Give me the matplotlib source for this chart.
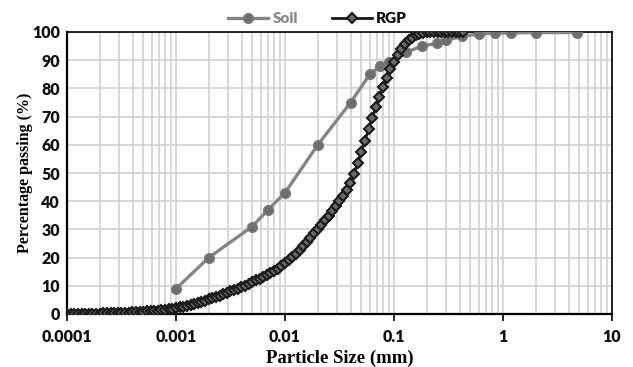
import matplotlib
matplotlib.use("Agg")
import matplotlib.pyplot as plt
from matplotlib.ticker import LogLocator, FixedLocator, NullFormatter

# ---------------- data ----------------
soil_size = [0.001, 0.002, 0.005, 0.007, 0.01, 0.02, 0.04, 0.06, 0.075, 0.09,
             0.13, 0.18, 0.25, 0.3, 0.425, 0.6, 0.85, 1.18, 2.0, 4.75]
soil_pass = [9, 20, 31, 37, 43, 60, 75, 85, 88, 89.5,
             92.8, 95.0, 96.0, 97.0, 98.5, 99.3, 99.6, 99.7, 99.8, 99.8]

rgp_size = [
    1.000e-4, 1.080e-4, 1.166e-4, 1.259e-4, 1.359e-4, 1.468e-4, 1.585e-4, 1.711e-4, 1.848e-4, 1.995e-4,
    2.154e-4, 2.326e-4, 2.512e-4, 2.712e-4, 2.929e-4, 3.162e-4, 3.415e-4, 3.687e-4, 3.981e-4, 4.299e-4,
    4.642e-4, 5.012e-4, 5.412e-4, 5.843e-4, 6.310e-4, 6.813e-4, 7.356e-4, 7.943e-4, 8.577e-4, 9.261e-4,
    1.000e-3, 1.080e-3, 1.166e-3, 1.259e-3, 1.359e-3, 1.468e-3, 1.585e-3, 1.711e-3, 1.848e-3, 1.995e-3,
    2.154e-3, 2.326e-3, 2.512e-3, 2.712e-3, 2.929e-3, 3.162e-3, 3.415e-3, 3.687e-3, 3.981e-3, 4.299e-3,
    4.642e-3, 5.012e-3, 5.412e-3, 5.843e-3, 6.310e-3, 6.813e-3, 7.356e-3, 7.943e-3, 8.577e-3, 9.261e-3,
    1.000e-2, 1.080e-2, 1.166e-2, 1.259e-2, 1.359e-2, 1.468e-2, 1.585e-2, 1.711e-2, 1.848e-2, 1.995e-2,
    2.154e-2, 2.326e-2, 2.512e-2, 2.712e-2, 2.929e-2, 3.162e-2, 3.415e-2, 3.687e-2, 3.981e-2, 4.299e-2,
    4.642e-2, 5.012e-2, 5.412e-2, 5.843e-2, 6.310e-2, 6.813e-2, 7.356e-2, 7.943e-2, 8.577e-2, 9.261e-2,
    1.000e-1, 1.080e-1, 1.166e-1, 1.259e-1, 1.359e-1, 1.468e-1, 1.585e-1, 1.711e-1, 1.848e-1, 1.995e-1,
    2.154e-1, 2.326e-1, 2.512e-1, 2.712e-1, 2.929e-1, 3.162e-1, 3.415e-1, 3.687e-1, 3.981e-1, 4.299e-1,
]
rgp_pass = [
    0.0, 0.0, 0.0, 0.0, 0.05, 0.05, 0.1, 0.1, 0.1, 0.15,
    0.2, 0.2, 0.25, 0.3, 0.35, 0.4, 0.45, 0.5, 0.55, 0.6,
    0.7, 0.8, 0.9, 1.0, 1.1, 1.2, 1.35, 1.5, 1.7, 1.9,
    2.1, 2.35, 2.6, 2.9, 3.2, 3.5, 3.9, 4.3, 4.7, 5.2,
    5.6, 6.0, 6.5, 7.0, 7.5, 8.0, 8.5, 9.0, 9.6, 10.1,
    10.7, 11.3, 11.9, 12.5, 13.1, 13.8, 14.5, 15.3, 16.1, 17.0,
    18.0, 19.0, 20.1, 21.3, 22.6, 24.0, 25.5, 27.0, 28.6, 30.0,
    31.6, 33.2, 34.8, 36.5, 38.2, 40.0, 41.9, 43.9, 46.5, 49.8,
    53.5, 57.5, 61.5, 65.5, 69.5, 73.3, 77.0, 80.5, 83.8, 86.8,
    89.5, 92.0, 94.0, 95.7, 97.0, 98.0, 98.8, 99.4, 99.8, 100,
    100, 100, 100, 100, 100, 100, 100, 100, 100, 100,
]

x_ticks = [0.0001, 0.001, 0.01, 0.1, 1, 10]
x_tick_labels = ["0.0001", "0.001", "0.01", "0.1", "1", "10"]
y_ticks = list(range(0, 101, 10))

# ---------------- figure ----------------
fig = plt.figure(figsize=(6.33, 3.67), dpi=100)
ax = fig.add_axes([67 / 633, 1 - 314 / 367, (612 - 67) / 633, (314 - 32) / 367])

ax.set_xscale("log")
ax.set_xlim(1e-4, 10)
ax.set_ylim(0, 100)

soil_col = "#858585"
ax.plot(soil_size, soil_pass, color=soil_col, lw=2.4, marker="o", ms=7,
        mfc="#6e6e6e", mec="#7a7a7a", mew=1.0, label="Soil", zorder=3)
ax.plot(rgp_size, rgp_pass, color="#1a1a1a", lw=2.0, marker="D", ms=4.8,
        mfc="#6a6a6a", mec="#1a1a1a", mew=1.5, label="RGP", zorder=4)

# grid
ax.xaxis.set_major_locator(FixedLocator(x_ticks))
ax.xaxis.set_minor_locator(LogLocator(base=10, subs=range(2, 10), numticks=20))
ax.xaxis.set_minor_formatter(NullFormatter())
ax.set_xticklabels(x_tick_labels)
ax.set_yticks(y_ticks)
ax.grid(which="major", color="#d4d4d4", lw=1.3)
ax.grid(which="minor", axis="x", color="#d4d4d4", lw=1.3)
ax.set_axisbelow(True)

for s in ["left", "bottom"]:
    ax.spines[s].set_linewidth(1.6)
for s in ["top", "right"]:
    ax.spines[s].set_linewidth(1.2)
for s in ax.spines.values():
    s.set_color("black")

tick_family = ["Lato", "DejaVu Sans"]
ax.tick_params(axis="x", which="major", length=5, width=1.2, direction="out", pad=6)
ax.tick_params(axis="x", which="minor", length=0)
ax.tick_params(axis="y", length=0, pad=5)
for lab in ax.get_xticklabels() + ax.get_yticklabels():
    lab.set_fontfamily(tick_family)
    lab.set_fontweight("heavy")
    lab.set_fontsize(11.5)
    lab.set_color("#111111")

serif = ["Liberation Serif", "DejaVu Serif"]
ax.set_xlabel("Particle Size (mm)", labelpad=3, family=serif, weight="bold", size=13.5)
ax.set_ylabel("Percentage passing (%)", family=serif, weight="bold", size=11.5)
ax.yaxis.set_label_coords(-34 / 545, 0.5)

leg = ax.legend(loc="lower center", bbox_to_anchor=(0.46, 0.975), ncol=2, frameon=False,
                handlelength=2.6, columnspacing=2.2, handletextpad=0.3,
                prop=dict(family=tick_family, weight="heavy", size=11))
leg.get_texts()[0].set_color("#8a8a8a")
leg.get_texts()[1].set_color("#111111")

fig.savefig("out.png", dpi=100)
